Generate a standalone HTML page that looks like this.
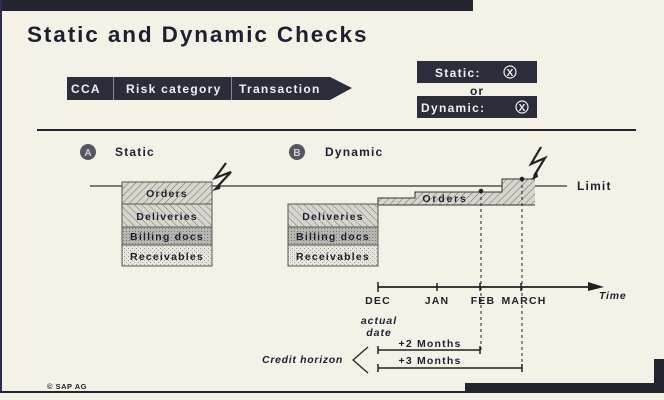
<!DOCTYPE html>
<html><head><meta charset="utf-8"><style>
html,body{margin:0;padding:0;background:#f4f2e6;}
svg{display:block;}
text{font-family:"Liberation Sans",sans-serif;font-weight:bold;fill:#1e2030;}
</style></head><body>
<svg width="664" height="400" viewBox="0 0 664 400" xmlns="http://www.w3.org/2000/svg">
<defs>
<pattern id="h1" width="5" height="5" patternUnits="userSpaceOnUse" patternTransform="rotate(45)"><rect width="5" height="5" fill="#d8d6cc"/><line x1="0" y1="0" x2="0" y2="5" stroke="#6a6a6a" stroke-width="1"/></pattern>
<pattern id="h2" width="5" height="5" patternUnits="userSpaceOnUse" patternTransform="rotate(-45)"><rect width="5" height="5" fill="#d8d6cc"/><line x1="0" y1="0" x2="0" y2="5" stroke="#777" stroke-width="1"/></pattern>
<pattern id="h3" width="3" height="3" patternUnits="userSpaceOnUse"><rect width="3" height="3" fill="#b8b6b0"/><rect width="1" height="1" fill="#777"/></pattern>
<pattern id="h4" width="4" height="4" patternUnits="userSpaceOnUse"><rect width="4" height="4" fill="#e8e6dc"/><rect width="1" height="1" fill="#999"/><rect x="2" y="2" width="1" height="1" fill="#aaa"/></pattern>
</defs>
<rect width="664" height="400" fill="#f4f2e6"/>
<rect x="0" y="0" width="473" height="11" fill="#23242e"/>
<rect x="0" y="0" width="2" height="393" fill="#2a2e48"/>
<rect x="0" y="391" width="465" height="2" fill="#23242e"/>
<rect x="465" y="383" width="199" height="10" fill="#23242e"/>
<rect x="654" y="359" width="10" height="34" fill="#23242e"/>

<text x="27" y="42" font-size="22.5" letter-spacing="1.9">Static and Dynamic Checks</text>

<rect x="67" y="77" width="263" height="23" fill="#2c2d3a"/>
<line x1="113.5" y1="77" x2="113.5" y2="100" stroke="#888"/>
<line x1="231.5" y1="77" x2="231.5" y2="100" stroke="#888"/>
<polygon points="330,77 352,88 330,100" fill="#2c2d3a"/>
<text x="71" y="93" font-size="12" style="fill:#f0f0f0" letter-spacing="1.3">CCA</text>
<text x="126" y="93" font-size="12" style="fill:#f0f0f0" letter-spacing="1.3">Risk category</text>
<text x="239" y="93" font-size="12" style="fill:#f0f0f0" letter-spacing="1.3">Transaction</text>

<rect x="417" y="61" width="120" height="22" fill="#2c2d3a"/>
<text x="435" y="77" font-size="12" style="fill:#f0f0f0" letter-spacing="1.3">Static:</text>
<circle cx="510" cy="72" r="6" fill="none" stroke="#f0f0f0" stroke-width="1.2"/><text x="510" y="76" font-size="10" text-anchor="middle" style="fill:#f0f0f0">X</text>
<text x="477" y="95" font-size="12" text-anchor="middle" letter-spacing="1">or</text>
<rect x="417" y="96" width="120" height="22" fill="#2c2d3a"/>
<text x="421" y="112" font-size="12" style="fill:#f0f0f0" letter-spacing="1.3">Dynamic:</text>
<circle cx="522" cy="107" r="6" fill="none" stroke="#f0f0f0" stroke-width="1.2"/><text x="522" y="111" font-size="10" text-anchor="middle" style="fill:#f0f0f0">X</text>

<rect x="37" y="129" width="599" height="2" fill="#23242e"/>

<circle cx="88" cy="152" r="8" fill="#55565e"/><text x="88" y="156" font-size="10" text-anchor="middle" style="fill:#ccc">A</text>
<text x="115" y="156" font-size="12" letter-spacing="1.2">Static</text>
<circle cx="297" cy="152" r="8" fill="#55565e"/><text x="297" y="156" font-size="10" text-anchor="middle" style="fill:#ccc">B</text>
<text x="325" y="156" font-size="12" letter-spacing="1.2">Dynamic</text>

<line x1="90" y1="186" x2="567" y2="186" stroke="#333" stroke-width="1.2"/>

<!-- static stack -->
<rect x="122" y="182" width="90" height="22" fill="url(#h1)" stroke="#555"/>
<rect x="122" y="204" width="90" height="23" fill="url(#h2)" stroke="#555"/>
<rect x="122" y="227" width="90" height="18" fill="url(#h3)" stroke="#555"/>
<rect x="122" y="245" width="90" height="21" fill="url(#h4)" stroke="#555"/>
<text x="167" y="197" font-size="10.5" text-anchor="middle" letter-spacing="1.2">Orders</text>
<text x="167" y="220" font-size="10.5" text-anchor="middle" letter-spacing="1.2">Deliveries</text>
<text x="167" y="240" font-size="10.5" text-anchor="middle" letter-spacing="1.2">Billing docs</text>
<text x="167" y="260" font-size="10.5" text-anchor="middle" letter-spacing="1.2">Receivables</text>
<polyline points="226,163 215,178 231,172 217,187" fill="none" stroke="#222" stroke-width="2.2"/>
<polygon points="212,191 221,182 220,189" fill="#222"/>

<!-- dynamic stack -->
<polygon points="378,205 378,198 415,198 415,192 502,192 502,179 535,179 535,205" fill="url(#h1)"/>
<polyline points="378,205 378,198 415,198 415,192 502,192 502,179 535,179" fill="none" stroke="#333"/>
<line x1="378" y1="205" x2="535" y2="205" stroke="#333"/>
<text x="445" y="202" font-size="10.5" text-anchor="middle" letter-spacing="1.8">Orders</text>
<rect x="288" y="204" width="90" height="23" fill="url(#h2)" stroke="#555"/>
<rect x="288" y="227" width="90" height="18" fill="url(#h3)" stroke="#555"/>
<rect x="288" y="245" width="90" height="21" fill="url(#h4)" stroke="#555"/>
<text x="333" y="220" font-size="10.5" text-anchor="middle" letter-spacing="1.2">Deliveries</text>
<text x="333" y="240" font-size="10.5" text-anchor="middle" letter-spacing="1.2">Billing docs</text>
<text x="333" y="260" font-size="10.5" text-anchor="middle" letter-spacing="1.2">Receivables</text>
<text x="577" y="190" font-size="12" letter-spacing="1.2">Limit</text>
<polyline points="541,147 531,164 545,158 534,176" fill="none" stroke="#222" stroke-width="2.2"/>
<polygon points="531,180 537,171 538,177" fill="#222"/>
<circle cx="481" cy="191" r="2.3" fill="#222"/>
<circle cx="522" cy="179" r="2.3" fill="#222"/>
<line x1="481" y1="191" x2="481" y2="352" stroke="#222" stroke-dasharray="3,3"/>
<line x1="522" y1="179" x2="522" y2="370" stroke="#222" stroke-dasharray="3,3"/>

<!-- time axis -->
<line x1="378" y1="287" x2="592" y2="287" stroke="#222" stroke-width="1.8"/>
<polygon points="588,282 604,287 588,291" fill="#222"/>
<line x1="378" y1="282" x2="378" y2="292" stroke="#222" stroke-width="1.5"/>
<line x1="437" y1="283" x2="437" y2="291" stroke="#222" stroke-width="1.5"/>
<line x1="480" y1="283" x2="480" y2="291" stroke="#222" stroke-width="1.5"/>
<line x1="521" y1="283" x2="521" y2="291" stroke="#222" stroke-width="1.5"/>
<text x="378" y="304" font-size="10.5" text-anchor="middle" letter-spacing="1.2">DEC</text>
<text x="437" y="304" font-size="10.5" text-anchor="middle" letter-spacing="1.2">JAN</text>
<text x="483" y="304" font-size="10.5" text-anchor="middle" letter-spacing="1.2">FEB</text>
<text x="524" y="304" font-size="10.5" text-anchor="middle" letter-spacing="1.2">MARCH</text>
<text x="599" y="299" font-size="10.5" font-style="italic" letter-spacing="0.8">Time</text>
<text x="379" y="324" font-size="10.5" font-style="italic" text-anchor="middle" letter-spacing="1">actual</text>
<text x="379" y="336" font-size="10.5" font-style="italic" text-anchor="middle" letter-spacing="1">date</text>
<line x1="378" y1="350" x2="480" y2="350" stroke="#222" stroke-width="1.5"/>
<line x1="378" y1="346" x2="378" y2="354" stroke="#222" stroke-width="1.5"/>
<line x1="480" y1="346" x2="480" y2="354" stroke="#222" stroke-width="1.5"/>
<text x="430" y="347" font-size="10.5" text-anchor="middle" letter-spacing="1.2">+2 Months</text>
<line x1="378" y1="368" x2="522" y2="368" stroke="#222" stroke-width="1.5"/>
<line x1="378" y1="364" x2="378" y2="372" stroke="#222" stroke-width="1.5"/>
<line x1="522" y1="364" x2="522" y2="372" stroke="#222" stroke-width="1.5"/>
<text x="430" y="364" font-size="10.5" text-anchor="middle" letter-spacing="1.2">+3 Months</text>
<text x="343" y="363" font-size="10.5" font-style="italic" text-anchor="end" letter-spacing="0.7">Credit horizon</text>
<polyline points="368,347 353,360 368,373" fill="none" stroke="#222" stroke-width="1.3"/>
<text x="47" y="389" font-size="7.5" font-weight="normal" letter-spacing="0.5">©  SAP AG</text>
</svg>
</body></html>
